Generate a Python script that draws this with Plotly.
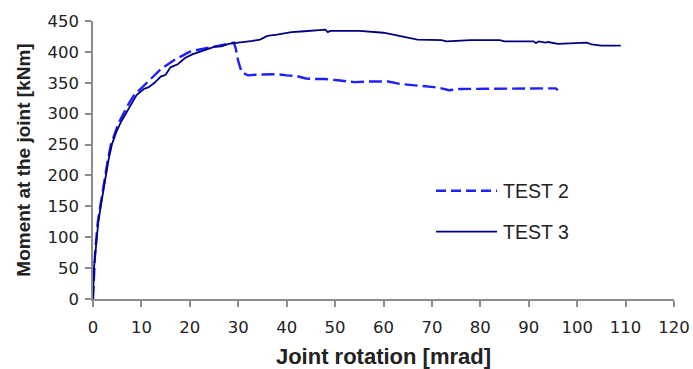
import plotly.graph_objects as go

# TEST 2 (dashed)
t2_x = [0, 0.2, 0.4, 0.7, 1.0, 1.5, 2.0, 2.5, 3.0, 3.7, 4.5, 5.3, 6.3, 7.3, 8.5, 9.8, 11.3, 12.6, 14.0, 15.5, 17.0, 18.5, 19.9, 21.5, 23.0, 24.5, 26.0, 27.5, 29.1, 29.5, 30.0, 30.7, 32.0, 33.5, 35.0, 36.5, 38.0, 40.0, 42.0, 43.0, 44.0, 46.0, 48.0, 50.6, 52.0, 54.0, 57.0, 59.0, 61.0, 63.5, 65.0, 67.0, 69.0, 70.4, 72.0, 73.5, 75.8, 80.0, 85.0, 90.0, 94.0, 95.6, 96.0]
t2_y = [0, 40, 70, 100, 125, 150, 176, 200, 222, 250, 268, 285, 300, 315, 330, 340, 350, 360, 372, 380, 388, 394, 400, 403, 406, 408, 410, 412, 415, 405, 385, 367, 362, 363, 363, 364, 364, 362, 361, 359, 357, 356, 356, 354, 353, 351, 352, 352, 352, 348, 347, 346, 344, 343, 341, 338, 340, 340, 340, 340, 340, 341, 338]

# TEST 3 (solid)
t3_x = [0, 0.2, 0.5, 0.75, 1.1, 1.6, 2.1, 2.7, 3.2, 3.9, 4.8, 5.8, 6.8, 7.8, 9.0, 10.5, 11.5, 12.7, 14.0, 15.0, 16.0, 17.5, 19.0, 20.5, 21.9, 23.5, 25.0, 26.5, 28.0, 30.0, 31.5, 33.0, 34.5, 36.0, 38.0, 41.0, 43.0, 46.0, 48.0, 48.5, 49.0, 50.0, 55.0, 60.0, 62.0, 63.5, 65.0, 67.0, 72.0, 73.0, 78.0, 84.0, 85.0, 91.0, 91.5, 92.0, 93.5, 94.0, 96.0, 102.0, 103.0, 105.0, 109.0]
t3_y = [0, 50, 75, 100, 125, 150, 175, 200, 225, 250, 270, 287, 300, 314, 330, 340, 343, 350, 360, 363, 375, 380, 390, 396, 400, 404, 408, 409, 413, 415, 416, 418, 420, 426, 428, 432, 433, 435, 436, 432, 434, 434, 434, 431, 428, 426, 423, 420, 419, 417, 419, 419, 417, 417, 414, 417, 415, 416, 413, 415, 412, 410, 410]

series_names = ["TEST 2", "TEST 3"]
x_ticks = [0, 10, 20, 30, 40, 50, 60, 70, 80, 90, 100, 110, 120]
y_ticks = [0, 50, 100, 150, 200, 250, 300, 350, 400, 450]

C2 = "#1f1fff"
C3 = "#000080"
DASH2 = "13px,5px"

fig = go.Figure()
fig.add_trace(go.Scatter(x=t2_x, y=t2_y, mode="lines", name=series_names[0],
                         line=dict(color=C2, width=2.4, dash=DASH2)))
fig.add_trace(go.Scatter(x=t3_x, y=t3_y, mode="lines", name=series_names[1],
                         line=dict(color=C3, width=1.8)))

tickfont = dict(family="DejaVu Sans", size=16.5, color="#222")
axis_common = dict(showgrid=False, zeroline=False, showline=True,
                   linecolor="#8c8c8c", linewidth=1.5, ticks="outside",
                   ticklen=6, tickcolor="#8c8c8c", tickwidth=1.5,
                   tickfont=tickfont, automargin=False)

# Legend drawn as decoration (long sample lines like the original)
leg_rows = [(0.3896, C2, "10px,5px", 2.4), (0.2421, C3, "solid", 1.8)]
shapes = []
annotations = []
for name, (yp, col, dash, w) in zip(series_names, leg_rows):
    shapes.append(dict(type="line", xref="paper", yref="paper",
                       x0=0.5904, x1=0.6954, y0=yp, y1=yp,
                       line=dict(color=col, width=w, dash=dash)))
    annotations.append(dict(xref="paper", yref="paper", x=0.7030, y=yp,
                            xanchor="left", yanchor="middle", showarrow=False,
                            text=name,
                            font=dict(family="Liberation Sans, Arial", size=19.5, color="#222")))

fig.update_layout(
    width=693, height=369,
    margin=dict(l=93, r=19, t=21, b=70),
    paper_bgcolor="white", plot_bgcolor="white",
    showlegend=False,
    font=dict(family="Liberation Sans, Arial", color="#222"),
    xaxis=dict(range=[0, 120], tickvals=x_ticks, ticklabelstandoff=6,
               title=dict(text="<b>Joint rotation [mrad]</b>",
                          font=dict(family="Liberation Sans, Arial", size=22, color="#222"),
                          standoff=14),
               **axis_common),
    yaxis=dict(range=[0, 450], tickvals=y_ticks, ticklabelstandoff=3,
               title=dict(text="<b>Moment at the joint [kNm]</b>",
                          font=dict(family="Liberation Sans, Arial", size=19, color="#222"),
                          standoff=12),
               **axis_common),
    shapes=shapes,
    annotations=annotations,
)

fig.write_html("out.html")
